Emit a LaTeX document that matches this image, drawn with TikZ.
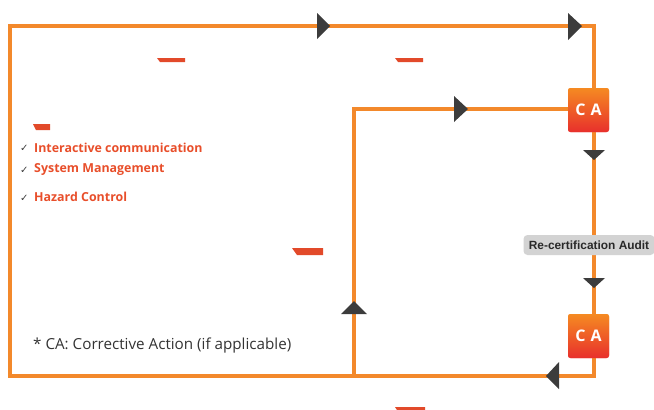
\documentclass[tikz,border=0pt]{standalone}
\usepackage{fontspec}
\setmainfont{Open Sans}
\newfontfamily\labfont{Liberation Sans}
\newfontfamily\symfont{DejaVu Sans}
\definecolor{lineor}{HTML}{F3892B}
\definecolor{txtred}{HTML}{E84E2A}
\definecolor{arrgray}{HTML}{3C3C3C}
\definecolor{caor}{HTML}{F58A22}
\definecolor{cared}{HTML}{E8302C}
\definecolor{barred}{HTML}{E24A2A}
\definecolor{labgray}{HTML}{D3D3D3}
\definecolor{captxt}{HTML}{333333}
\begin{document}
\begin{tikzpicture}[x=1pt,y=-1pt,
  loopline/.style={draw=lineor,line width=3.6pt},
  cabox/.style={minimum width=41pt,minimum height=44pt,inner sep=0pt,rounded corners=2.5pt,
     top color=caor,bottom color=cared,text=white,font=\bfseries\fontsize{16}{16}\selectfont},
  arrhead/.style={fill=arrgray},
  redbar/.style={fill=barred},
  checkitem/.style={anchor=west,inner sep=0pt,text=txtred,font=\bfseries\fontsize{12.4}{14}\selectfont},
  checkmark/.style={anchor=west,inner sep=0pt,text=arrgray,font=\symfont\fontsize{10}{10}\selectfont},
  auditlab/.style={fill=labgray,rounded corners=4pt,minimum width=131pt,minimum height=20pt,inner sep=0pt,
     text=captxt!80!black,font=\labfont\bfseries\fontsize{11.9}{13}\selectfont}
]
\useasboundingbox (0,0) rectangle (654,410);

% corner coordinates
\coordinate (tl) at (10,26);
\coordinate (bl) at (10,376);
\coordinate (it) at (354,109);
\coordinate (ib) at (354,376);

% CA boxes
\node[cabox] (ca1) at (588.5,110) {C\hspace{5pt}A};
\node[cabox] (ca2) at (588.5,336) {C\hspace{5pt}A};

% connectors
\draw[loopline] (ca2.south -| 594,0) -- (594,376) -- (bl) -- (tl) -- (594,26) -- (ca1.north -| 594,0);
\draw[loopline] (ib) -- (it) -- (ca1.west |- it);
\draw[loopline] (ca1.south -| 594,0) -- (ca2.north -| 594,0);

% redraw CA boxes on top
\node[cabox] at (ca1) {C\hspace{5pt}A};
\node[cabox] at (ca2) {C\hspace{5pt}A};

% audit label
\node[auditlab] (audit) at (589,245) {Re-certification Audit};

% arrowheads
\fill[arrhead] (330,26) -- (317,13) -- (317,39) -- cycle;
\fill[arrhead] (582,26) -- (568,13) -- (568,40) -- cycle;
\fill[arrhead] (468,109) -- (454,96) -- (454,122) -- cycle;
\fill[arrhead] (594,160) -- (583,150) -- (605,150) -- cycle;
\fill[arrhead] (594,288) -- (583,278) -- (605,278) -- cycle;
\fill[arrhead] (546,376) -- (559,362) -- (559,389) -- cycle;
\fill[arrhead] (354,301) -- (341,314) -- (367,314) -- cycle;

% red fragments
\fill[redbar] (157,58) -- (185,58) -- (185,62) -- (160,62) -- cycle;
\fill[redbar] (395,58) -- (423,58) -- (423,62) -- (398,62) -- cycle;
\fill[redbar] (33,124) -- (50,124) -- (50,130) -- (36,130) -- cycle;
\fill[redbar] (292,248) -- (323,248) -- (323,255) -- (297,255) -- cycle;
\fill[redbar] (395,407) -- (425,407) -- (425,410) -- (397,410) -- cycle;

% checklist
\node[checkmark] (c1) at (20,148) {✓};
\node[checkitem] (t1) at (34,148) {Interactive communication};
\node[checkmark] (c2) at (20,170) {✓};
\node[checkitem] (t2) at (34,169) {System Management};
\node[checkmark] (c3) at (20,198) {✓};
\node[checkitem] (t3) at (34,197) {Hazard Control};

% caption
\node[anchor=west,inner sep=0pt,text=captxt,font=\fontsize{15.2}{17}\selectfont] (cap) at (33,346) {* CA: Corrective Action (if applicable)};
\end{tikzpicture}
\end{document}
